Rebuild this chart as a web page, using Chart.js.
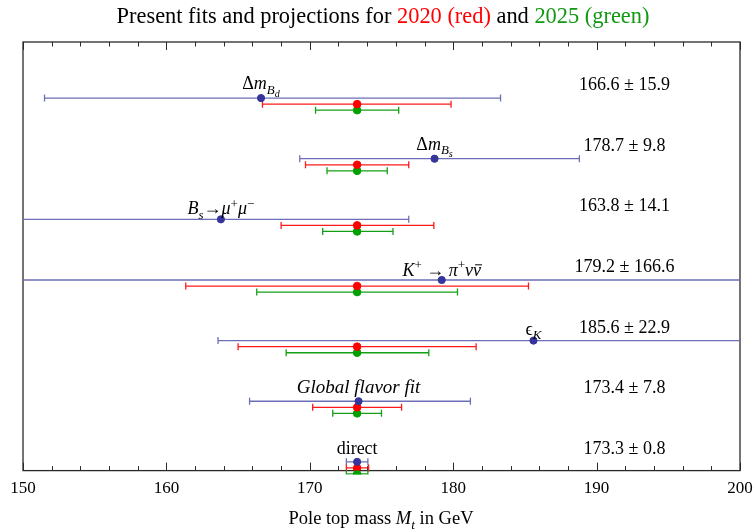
<!DOCTYPE html>
<html><head><meta charset="utf-8">
<script src="https://cdn.jsdelivr.net/npm/chart.js@4.4.1/dist/chart.umd.min.js"></script>
<style>html,body{margin:0;padding:0;background:#fff}#wrap{width:753px;height:530px}</style>
</head><body><div id="wrap"><canvas id="c" width="753" height="530"></canvas></div>
<script>
// ---- data ----
const categories = ['ΔmBd', 'ΔmBs', 'Bs→μ+μ−', 'K+→π+νν̄', 'εK', 'Global flavor fit', 'direct'];
const valueLabels = ['166.6 ± 15.9', '178.7 ± 9.8', '163.8 ± 14.1', '179.2 ± 166.6', '185.6 ± 22.9', '173.4 ± 7.8', '173.3 ± 0.8'];
const blueCentral = [166.6, 178.7, 163.8, 179.2, 185.6, 173.4, 173.3];
const blueLow  = [151.5, 169.3, 149.7, 12.6, 163.6, 165.8, 172.55];
const blueHigh = [183.3, 188.8, 176.9, 345.8, 208.5, 181.2, 174.05];
const redCentral = [173.3, 173.3, 173.3, 173.3, 173.3, 173.3, 173.3];
const redLow  = [166.7, 169.7, 168.0, 161.35, 165.0, 170.2, 172.55];
const redHigh = [179.85, 176.9, 178.65, 185.25, 181.6, 176.4, 174.1];
const greenCentral = [173.3, 173.3, 173.3, 173.3, 173.3, 173.3, 173.3];
const greenLow  = [170.4, 171.2, 170.9, 166.3, 168.35, 171.6, 172.55];
const greenHigh = [176.2, 175.4, 175.8, 180.3, 178.3, 175.0, 174.05];
const xTicks = [150, 160, 170, 180, 190, 200];

const SERIF = '"Liberation Serif", "Times New Roman", serif';
const BLUE_PT = '#35359a', BLUE_LN = '#6e6eb8';
const RED = '#ff1a1a', GREEN = '#14a014';
const redOff = 0.1, greenOff = 0.2;

function mk(central, low, high, off) {
  return central.map((v, i) => ({x: v, y: i + off, lo: low[i], hi: high[i]}));
}

// rich text labels (math-like) for each category
const richLabels = [
  [{t:'Δ'},{t:'m',i:1},{t:'B',i:1,sub:1},{t:'d',i:1,sub2:1}],
  [{t:'Δ'},{t:'m',i:1},{t:'B',i:1,sub:1},{t:'s',i:1,sub2:1}],
  [{t:'B',i:1},{t:'s',i:1,sub:1},{t:'→'},{t:'μ',i:1},{t:'+',sup:1},{t:'μ',i:1},{t:'−',sup:1}],
  [{t:'K',i:1},{t:'+',sup:1},{t:' → '},{t:'π',i:1},{t:'+',sup:1},{t:'ν',i:1},{t:'ν',i:1,bar:1}],
  [{t:'ϵ'},{t:'K',i:1,sub:1}],
  [{t:'Global flavor fit',i:1}],
  [{t:'direct'}]
];
const labelLift = [9, 9, 5, 4, 6, 8, 8];
const labelSize = [18, 18, 18, 18, 18, 19, 18];

function segFont(s, size) {
  let sz = size;
  if (s.sub || s.sup) sz = size * 0.72;
  if (s.sub2) sz = size * 0.56;
  return (s.i ? 'italic ' : '') + sz + 'px ' + SERIF;
}
function drawRich(ctx, segs, cx, base, size, align) {
  let w = 0;
  segs.forEach(s => { ctx.font = segFont(s, size); s._w = ctx.measureText(s.t).width; w += s._w; });
  let x = align === 'left' ? cx : cx - w / 2;
  ctx.textBaseline = 'alphabetic'; ctx.textAlign = 'left';
  segs.forEach(s => {
    ctx.font = segFont(s, size);
    ctx.fillStyle = s.c || '#000';
    let y = base;
    if (s.sub) y += size * 0.25;
    if (s.sub2) y += size * 0.42;
    if (s.sup) y -= size * 0.38;
    ctx.fillText(s.t, x, y);
    if (s.bar) {
      ctx.strokeStyle = '#000'; ctx.lineWidth = 1;
      ctx.beginPath(); ctx.moveTo(x + 2, base - size * 0.62); ctx.lineTo(x + s._w + 1, base - size * 0.62); ctx.stroke();
    }
    x += s._w;
  });
}

const deco = {
  id: 'deco',
  beforeDatasetsDraw(chart) {
    const {ctx, chartArea: a, scales: {x, y}} = chart;
    ctx.save();
    // frame
    ctx.strokeStyle = '#2a2a2a'; ctx.lineWidth = 1.3;
    ctx.strokeRect(a.left, a.top, a.right - a.left, a.bottom - a.top);
    // inward ticks, top and bottom
    ctx.lineWidth = 1;
    for (let v = 150; v <= 200; v += 2) {
      const px = Math.round(x.getPixelForValue(v)) + 0.5;
      const len = (v % 10 === 0) ? 8 : 4.5;
      ctx.beginPath();
      ctx.moveTo(px, a.bottom); ctx.lineTo(px, a.bottom - len);
      ctx.moveTo(px, a.top); ctx.lineTo(px, a.top + len);
      ctx.stroke();
    }
    // error bars
    ctx.beginPath();
    ctx.rect(a.left, a.top, a.right - a.left, a.bottom - a.top + 4);
    ctx.clip();
    chart.data.datasets.forEach(ds => {
      ctx.strokeStyle = ds.barColor; ctx.lineWidth = 1.3;
      ds.data.forEach(p => {
        const py = y.getPixelForValue(p.y);
        const x1 = x.getPixelForValue(p.lo), x2 = x.getPixelForValue(p.hi);
        ctx.beginPath();
        ctx.moveTo(x1, py); ctx.lineTo(x2, py);
        ctx.moveTo(x1, py - 3.5); ctx.lineTo(x1, py + 3.5);
        ctx.moveTo(x2, py - 3.5); ctx.lineTo(x2, py + 3.5);
        ctx.stroke();
      });
    });
    ctx.restore();
  },
  afterDraw(chart) {
    const {ctx, chartArea: a, scales: {x, y}} = chart;
    ctx.save();
    // title
    drawRich(ctx, [
      {t:'Present fits and projections for '},
      {t:'2020 (red)', c:'#ff0000'},
      {t:' and '},
      {t:'2025 (green)', c:'#119911'}
    ], 383, 23, 22.4);
    // axis title
    drawRich(ctx, [{t:'Pole top mass '},{t:'M',i:1},{t:'t',i:1,sub:1},{t:' in GeV'}], 381, 524, 18.5);
    // category labels and value labels
    categories.forEach((c, i) => {
      const px = x.getPixelForValue(blueCentral[i]);
      const py = y.getPixelForValue(i);
      drawRich(ctx, richLabels[i], px, py - labelLift[i], labelSize[i]);
      ctx.font = '18px ' + SERIF; ctx.fillStyle = '#000'; ctx.textAlign = 'center';
      ctx.fillText(valueLabels[i], x.getPixelForValue(191.95), py - 8);
    });
    ctx.restore();
  }
};

new Chart(document.getElementById('c'), {
  type: 'scatter',
  data: {
    datasets: [
      {label: 'fit', data: mk(blueCentral, blueLow, blueHigh, 0), barColor: BLUE_LN, backgroundColor: BLUE_PT, borderColor: BLUE_PT, pointRadius: 3.6, pointHoverRadius: 3.6},
      {label: '2020', data: mk(redCentral, redLow, redHigh, redOff), barColor: RED, backgroundColor: '#ff0000', borderColor: '#ff0000', pointRadius: 3.8, pointHoverRadius: 3.8},
      {label: '2025', data: mk(greenCentral, greenLow, greenHigh, greenOff), barColor: GREEN, backgroundColor: '#00a000', borderColor: '#00a000', pointRadius: 3.8, pointHoverRadius: 3.8, clip: {left: 0, top: 0, right: 0, bottom: 4}}
    ]
  },
  options: {
    responsive: false, animation: false,
    layout: {padding: {left: 23, right: 13, top: 42, bottom: 23}},
    plugins: {legend: {display: false}, tooltip: {enabled: false}, title: {display: false}},
    scales: {
      x: {
        type: 'linear', min: 150, max: 200,
        afterBuildTicks: s => { s.ticks = xTicks.map(v => ({value: v})); },
        afterFit: s => { s.paddingLeft = 0; s.paddingRight = 0; },
        grid: {display: false, drawTicks: false},
        border: {display: false},
        ticks: {font: {family: SERIF, size: 17}, color: '#000', padding: 8, maxRotation: 0}
      },
      y: {
        display: false, reverse: true, min: -0.925, max: 6.144
      }
    }
  },
  plugins: [deco]
});
</script></body></html>
